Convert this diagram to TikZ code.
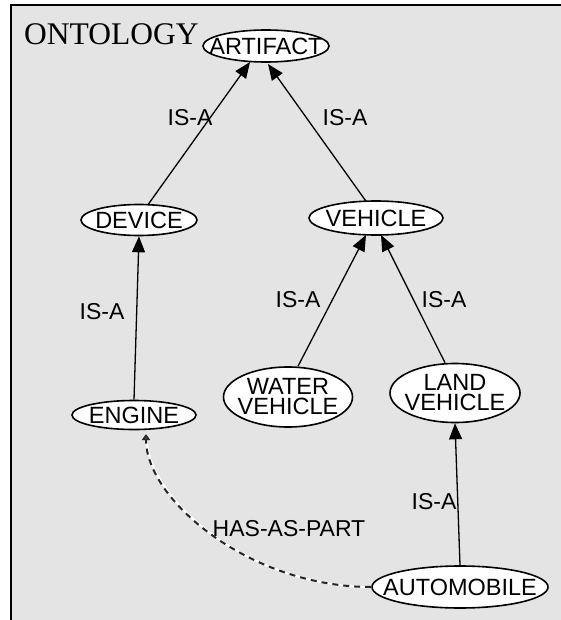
\documentclass[tikz,border=0pt]{standalone}
\usepackage{fontspec}
\setmainfont{Liberation Sans}
\newfontfamily\titlefont{Liberation Serif}
\usetikzlibrary{shapes.geometric,arrows.meta}
\definecolor{panel}{HTML}{E4E4E4}
\tikzset{
  concept/.style={ellipse, draw=black, line width=1.6pt, fill=white, inner sep=0pt},
  ctext/.style={inner sep=0pt, font=\fontsize{23.5}{20}\selectfont, align=center},
  isa/.style={draw=black, line width=1.3pt, -{Triangle[length=16pt,width=13pt]}},
  haspart/.style={line width=2pt, -{Triangle[length=6pt,width=8pt,fill=gray!70!black]},
    preaction={draw=white, line width=2pt, -}, draw=black!85, dash pattern=on 6pt off 5pt},
  rel/.style={font=\fontsize{23}{23}\selectfont, inner sep=0pt},
}
\begin{document}
\begin{tikzpicture}[x=1pt,y=-1pt]
\useasboundingbox (0,0) rectangle (561,620);
% panel behind the ontology
\draw[fill=panel, line width=2.6pt] (11,5) rectangle (600,660);
\node[anchor=base west, inner sep=0pt, font=\titlefont\fontsize{31.5}{31.5}\selectfont] (title) at (24,45) {ONTOLOGY};

% concepts: fixed-size ellipses with their names on top
\node[concept, minimum width=126pt, minimum height=32pt] (artifact) at (266,46) {};
\node[concept, minimum width=116pt, minimum height=31pt] (device) at (139,220) {};
\node[concept, minimum width=134pt, minimum height=34pt] (vehicle) at (376,218) {};
\node[concept, minimum width=129pt, minimum height=60pt] (water) at (288,397) {};
\node[concept, minimum width=130pt, minimum height=59pt] (land) at (455,393) {};
\node[concept, minimum width=124pt, minimum height=29pt] (engine) at (134,415) {};
\node[concept, minimum width=176pt, minimum height=42pt] (auto) at (460,587) {};

\node[ctext] (artifact-t) at (artifact) {ARTIFACT};
\node[ctext] (device-t) at (device) {DEVICE};
\node[ctext] (vehicle-t) at (vehicle) {VEHICLE};
\node[ctext] (water-t) at (water) {WATER\\VEHICLE};
\node[ctext] (land-t) at (land) {LAND\\VEHICLE};
\node[ctext] (engine-t) at (engine) {ENGINE};
\node[ctext] (auto-t) at (auto) {AUTOMOBILE};

% is-a links
\draw[isa] (device.north) ++(9,1) coordinate (d1) -- (250,62) coordinate (a1);
\draw[isa] (vehicle.north) ++(-10,1) coordinate (v1) -- (268,64) coordinate (a2);
\draw[isa] (engine.north) -- (device.south);
\draw[isa] (water.north) ++(10,0) coordinate (w1) -- (366,235) coordinate (v2);
\draw[isa] (land.north) ++(-10,0) coordinate (l1) -- (381,235) coordinate (v3);
\draw[isa] (auto.north) -- (land.south);

% part-of link
\draw[haspart] (auto.west) .. controls (250,587) and (146,500) .. (146,434) coordinate (e1);

% link labels
\node[rel] (l-da) at (190,118) {IS-A};
\node[rel] (l-va) at (345,118) {IS-A};
\node[rel] (l-ed) at (102,312) {IS-A};
\node[rel] (l-wv) at (298,300) {IS-A};
\node[rel] (l-lv) at (444,300) {IS-A};
\node[rel] (l-al) at (434,502) {IS-A};
\node[rel] (l-hp) at (289,529) {HAS-AS-PART};
\end{tikzpicture}
\end{document}
